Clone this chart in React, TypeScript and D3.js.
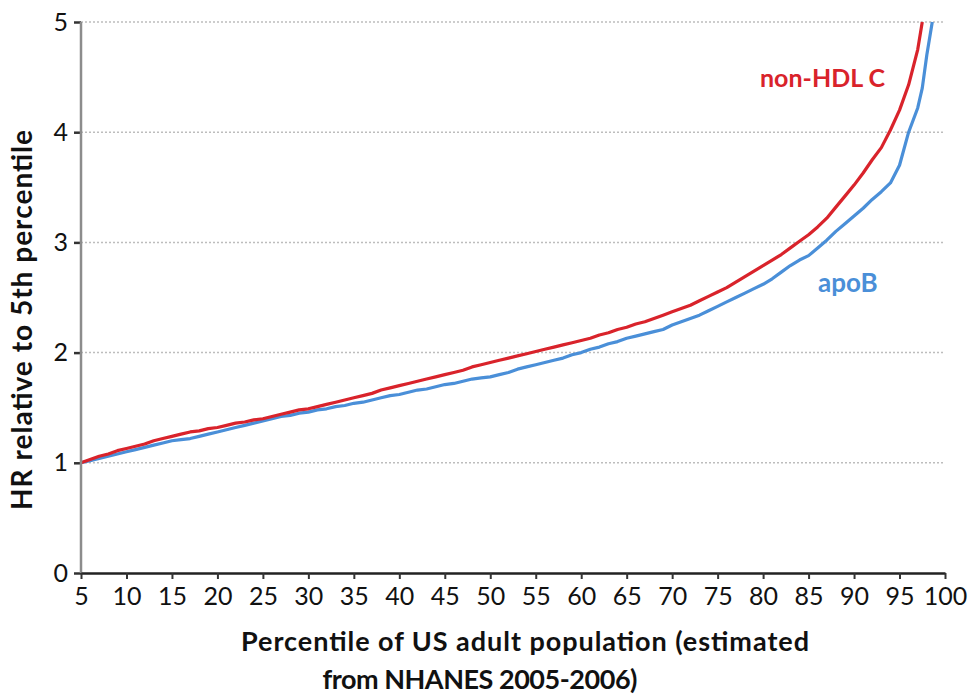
import { useEffect, useRef } from 'react';
import * as d3 from 'd3';

const percentiles = [
  5, 6, 7, 8, 9, 10, 11, 12, 13, 14, 15, 16, 17, 18, 19, 20, 21, 22, 23, 24,
  25, 26, 27, 28, 29, 30, 31, 32, 33, 34, 35, 36, 37, 38, 39, 40, 41, 42, 43, 44,
  45, 46, 47, 48, 49, 50, 51, 52, 53, 54, 55, 56, 57, 58, 59, 60, 61, 62, 63, 64,
  65, 66, 67, 68, 69, 70, 71, 72, 73, 74, 75, 76, 77, 78, 79, 80, 81, 82, 83, 84,
  85, 86, 87, 88, 89, 90, 91, 92, 93, 94, 95, 96, 97, 97.5, 98, 98.6,
];

const nonHdl = [
  1.0, 1.03, 1.06, 1.08, 1.11, 1.13, 1.15, 1.17, 1.2, 1.22, 1.24, 1.26, 1.28, 1.29, 1.31, 1.32, 1.34, 1.36, 1.37, 1.39,
  1.4, 1.42, 1.44, 1.46, 1.48, 1.49, 1.51, 1.53, 1.55, 1.57, 1.59, 1.61, 1.63, 1.66, 1.68, 1.7, 1.72, 1.74, 1.76, 1.78,
  1.8, 1.82, 1.84, 1.87, 1.89, 1.91, 1.93, 1.95, 1.97, 1.99, 2.01, 2.03, 2.05, 2.07, 2.09, 2.11, 2.13, 2.16, 2.18, 2.21,
  2.23, 2.26, 2.28, 2.31, 2.34, 2.37, 2.4, 2.43, 2.47, 2.51, 2.55, 2.59, 2.64, 2.69, 2.74, 2.79, 2.84, 2.89, 2.95, 3.01,
  3.07, 3.14, 3.22, 3.32, 3.42, 3.52, 3.63, 3.75, 3.86, 4.02, 4.2, 4.43, 4.75, 5.0, null, null,
];

const apoB = [
  1.0, 1.02, 1.04, 1.06, 1.08, 1.1, 1.12, 1.14, 1.16, 1.18, 1.2, 1.21, 1.22, 1.24, 1.26, 1.28, 1.3, 1.32, 1.34, 1.36,
  1.38, 1.4, 1.42, 1.43, 1.45, 1.46, 1.48, 1.49, 1.51, 1.52, 1.54, 1.55, 1.57, 1.59, 1.61, 1.62, 1.64, 1.66, 1.67, 1.69,
  1.71, 1.72, 1.74, 1.76, 1.77, 1.78, 1.8, 1.82, 1.85, 1.87, 1.89, 1.91, 1.93, 1.95, 1.98, 2.0, 2.03, 2.05, 2.08, 2.1,
  2.13, 2.15, 2.17, 2.19, 2.21, 2.25, 2.28, 2.31, 2.34, 2.38, 2.42, 2.46, 2.5, 2.54, 2.58, 2.62, 2.67, 2.73, 2.79, 2.84,
  2.88, 2.95, 3.02, 3.1, 3.17, 3.24, 3.31, 3.39, 3.46, 3.54, 3.7, 4.0, 4.22, 4.4, 4.7, 5.0,
];

const xTicks = [5, 10, 15, 20, 25, 30, 35, 40, 45, 50, 55, 60, 65, 70, 75, 80, 85, 90, 95, 100];
const yTicks = [0, 1, 2, 3, 4, 5];

const RED = '#d9232b';
const BLUE = '#4a8fd8';
const FONT = 'Lato, "Open Sans", sans-serif';

const App = () => {
  const chartRef = useRef<SVGSVGElement | null>(null);

  useEffect(() => {
    const width = 972;
    const height = 697;
    const margin = { top: 22, right: 27, bottom: 124, left: 81 };

    const root = d3.select(chartRef.current);
    root.selectAll('*').remove();

    const svg = root
      .append('g')
      .attr('transform', `translate(${margin.left},${margin.top})`);

    const w = width - margin.left - margin.right;
    const h = height - margin.top - margin.bottom;

    const x = d3.scaleLinear().domain([5, 100]).range([0, w]);
    const y = d3.scaleLinear().domain([0, 5]).range([h, 0]);

    // dotted gridlines
    svg.append('g')
      .selectAll('line')
      .data(yTicks.filter(d => d > 0))
      .join('line')
      .attr('x1', 0)
      .attr('x2', w)
      .attr('y1', d => y(d))
      .attr('y2', d => y(d))
      .attr('stroke', '#bdbdbd')
      .attr('stroke-width', 1.5)
      .attr('stroke-dasharray', '2,2');

    const line = d3.line<[number, number | null]>()
      .defined(d => d[1] != null)
      .x(d => x(d[0]))
      .y(d => y(d[1] as number));

    const blueData = percentiles.map((p, i) => [p, apoB[i]] as [number, number | null]);
    const redData = percentiles.map((p, i) => [p, nonHdl[i]] as [number, number | null]);

    svg.append('path')
      .datum(blueData)
      .attr('fill', 'none')
      .attr('stroke', BLUE)
      .attr('stroke-width', 3.2)
      .attr('stroke-linejoin', 'round')
      .attr('d', line);

    svg.append('path')
      .datum(redData)
      .attr('fill', 'none')
      .attr('stroke', RED)
      .attr('stroke-width', 3.2)
      .attr('stroke-linejoin', 'round')
      .attr('d', line);

    // y axis
    const yAxis = svg.append('g')
      .call(d3.axisLeft(y).tickValues(yTicks).tickSize(7).tickPadding(6).tickFormat(d3.format('d')));
    yAxis.select('.domain').remove();
    yAxis.append('line')
      .attr('x1', 0).attr('x2', 0)
      .attr('y1', 0).attr('y2', h)
      .attr('stroke', '#8c8c8c')
      .attr('stroke-width', 2.5);
    yAxis.selectAll('.tick line').attr('stroke', '#333').attr('stroke-width', 2.5);
    yAxis.selectAll('.tick text')
      .attr('fill', '#111')
      .style('font-family', FONT)
      .style('font-size', '25px');

    // x axis
    const xAxis = svg.append('g')
      .attr('transform', `translate(0,${h})`)
      .call(d3.axisBottom(x).tickValues(xTicks).tickSizeInner(6).tickSizeOuter(0).tickPadding(8));
    xAxis.select('.domain').attr('stroke', '#222').attr('stroke-width', 2.5);
    xAxis.selectAll('.tick line').attr('stroke', '#333').attr('stroke-width', 2);
    xAxis.selectAll('.tick text')
      .attr('fill', '#111')
      .style('font-family', FONT)
      .style('font-size', '25px');

    // axis titles
    svg.append('text')
      .attr('x', 525 - margin.left)
      .attr('y', h + 78)
      .attr('text-anchor', 'middle')
      .attr('textLength', 568)
      .attr('lengthAdjust', 'spacing')
      .style('font-family', FONT)
      .style('font-weight', 700)
      .style('font-size', '27px')
      .attr('fill', '#111')
      .text('Percentile of US adult population (estimated');

    svg.append('text')
      .attr('x', 480 - margin.left)
      .attr('y', h + 116)
      .attr('text-anchor', 'middle')
      .attr('textLength', 315)
      .attr('lengthAdjust', 'spacing')
      .style('font-family', FONT)
      .style('font-weight', 700)
      .style('font-size', '27px')
      .attr('fill', '#111')
      .text('from NHANES 2005-2006)');

    svg.append('text')
      .attr('transform', `translate(${32 - margin.left},${320 - margin.top}) rotate(-90)`)
      .attr('text-anchor', 'middle')
      .attr('textLength', 380)
      .attr('lengthAdjust', 'spacing')
      .style('font-family', FONT)
      .style('font-weight', 700)
      .style('font-size', '28px')
      .attr('fill', '#111')
      .text('HR relative to 5th percentile');

    // series labels
    svg.append('text')
      .attr('x', 760 - margin.left)
      .attr('y', 87 - margin.top)
      .style('font-family', FONT)
      .style('font-weight', 700)
      .style('font-size', '25px')
      .attr('fill', RED)
      .text('non-HDL C');

    svg.append('text')
      .attr('x', 818 - margin.left)
      .attr('y', 292 - margin.top)
      .style('font-family', FONT)
      .style('font-weight', 700)
      .style('font-size', '26px')
      .attr('fill', BLUE)
      .text('apoB');
  }, []);

  return (
    <svg
      ref={chartRef}
      width={972}
      height={697}
      style={{ position: 'absolute', left: 0, top: 0, background: '#fff' }}
    />
  );
};

export default App;
